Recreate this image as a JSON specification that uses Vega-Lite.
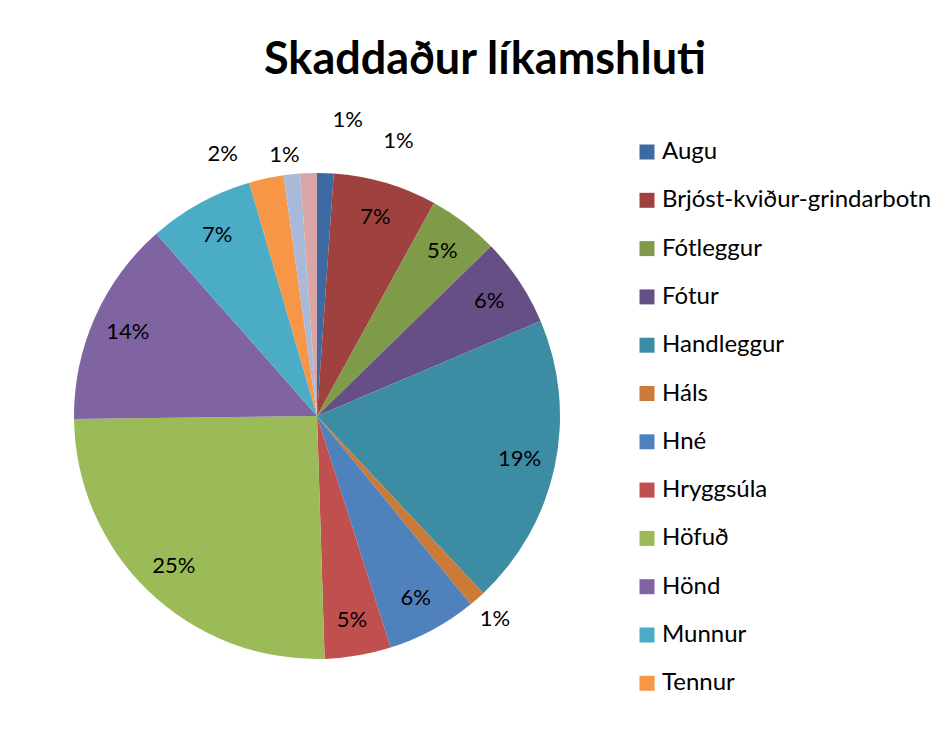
{
  "$schema": "https://vega.github.io/schema/vega-lite/v6.json",
  "autosize": "none",
  "width": 486,
  "height": 486,
  "padding": {"left": 74, "top": 173, "right": 391, "bottom": 74},
  "background": "white",
  "title": {"text": "Skaddaður líkamshluti", "font": "Lato", "fontSize": 45, "fontWeight": "bold", "color": "#000000", "anchor": "middle", "frame": "group", "dx": 168, "offset": 26},
  "config": {"view": {"stroke": null}},
  "data": {"values": [
    {"k": "Augu", "v": 1.1, "n": 1, "lab": "1%"},
    {"k": "Brjóst-kviður-grindarbotn", "v": 6.9, "n": 2, "lab": "7%"},
    {"k": "Fótleggur", "v": 4.7, "n": 3, "lab": "5%"},
    {"k": "Fótur", "v": 5.9, "n": 4, "lab": "6%"},
    {"k": "Handleggur", "v": 19.4, "n": 5, "lab": "19%"},
    {"k": "Háls", "v": 1.1, "n": 6, "lab": "1%"},
    {"k": "Hné", "v": 6.0, "n": 7, "lab": "6%"},
    {"k": "Hryggsúla", "v": 4.4, "n": 8, "lab": "5%"},
    {"k": "Höfuð", "v": 25.3, "n": 9, "lab": "25%"},
    {"k": "Hönd", "v": 13.7, "n": 10, "lab": "14%"},
    {"k": "Munnur", "v": 7.0, "n": 11, "lab": "7%"},
    {"k": "Tennur", "v": 2.3, "n": 12, "lab": "2%"},
    {"k": "Úlnliður", "v": 1.1, "n": 13, "lab": "1%"},
    {"k": "Öxl", "v": 1.1, "n": 14, "lab": "1%"}
  ]},
  "encoding": {
    "theta": {"field": "v", "type": "quantitative", "stack": true},
    "order": {"field": "n", "type": "quantitative"}
  },
  "layer": [
    {
      "mark": {"type": "arc"},
      "encoding": {
        "color": {
          "field": "k", "type": "nominal",
          "scale": {
            "domain": ["Augu", "Brjóst-kviður-grindarbotn", "Fótleggur", "Fótur", "Handleggur", "Háls", "Hné", "Hryggsúla", "Höfuð", "Hönd", "Munnur", "Tennur", "Úlnliður", "Öxl"],
            "range": ["#3D6AA3", "#9F413E", "#7F9A48", "#664F84", "#3C8DA3", "#CB7B37", "#4F81BD", "#C0504D", "#9BBB59", "#8064A2", "#4BACC6", "#F79646", "#A9B9D9", "#D9A6A5"]
          },
          "legend": {
            "orient": "none", "legendX": 561, "legendY": -33, "title": null,
            "symbolType": "square", "symbolSize": 225, "symbolStrokeWidth": 0,
            "labelFont": "Lato", "labelFontSize": 24, "labelColor": "#000000",
            "rowPadding": 24.3, "labelOffset": 3, "padding": 0, "labelLimit": 400,
            "values": ["Augu", "Brjóst-kviður-grindarbotn", "Fótleggur", "Fótur", "Handleggur", "Háls", "Hné", "Hryggsúla", "Höfuð", "Hönd", "Munnur", "Tennur"]
          }
        }
      }
    },
    {
      "mark": {"type": "text", "radius": 207, "font": "Lato", "fontSize": 22, "color": "#000000"},
      "encoding": {"text": {"condition": {"test": "datum.v >= 3", "field": "lab"}, "value": ""}}
    },
    {
      "mark": {"type": "text", "radius": 270, "font": "Lato", "fontSize": 22, "color": "#000000"},
      "encoding": {"text": {"condition": {"test": "datum.k == 'Háls'", "field": "lab"}, "value": ""}}
    },
    {
      "mark": {"type": "text", "radius": 266, "font": "Lato", "fontSize": 22, "color": "#000000", "dx": -5, "dy": 4},
      "encoding": {"text": {"condition": {"test": "datum.k == 'Úlnliður'", "field": "lab"}, "value": ""}}
    },
    {
      "mark": {"type": "text", "radius": 270, "font": "Lato", "fontSize": 22, "color": "#000000", "dx": -38, "dy": 2},
      "encoding": {"text": {"condition": {"test": "datum.k == 'Tennur'", "field": "lab"}, "value": ""}}
    },
    {
      "mark": {"type": "text", "radius": 270, "font": "Lato", "fontSize": 22, "color": "#000000", "dx": 72, "dy": -5},
      "encoding": {"text": {"condition": {"test": "datum.k == 'Augu'", "field": "lab"}, "value": ""}}
    },
    {
      "mark": {"type": "text", "radius": 270, "font": "Lato", "fontSize": 22, "color": "#000000", "dx": 40, "dy": -26},
      "encoding": {"text": {"condition": {"test": "datum.k == 'Öxl'", "field": "lab"}, "value": ""}}
    }
  ]
}
